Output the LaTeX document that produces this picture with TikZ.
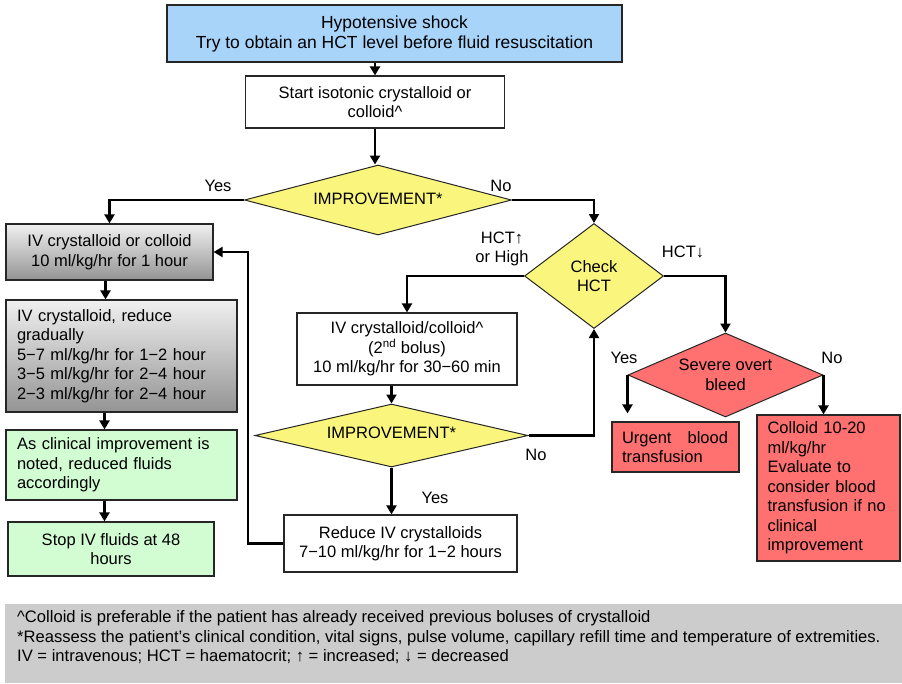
\documentclass[tikz,border=0pt]{standalone}
\usepackage{fontspec}
\setmainfont{Liberation Sans}
\usetikzlibrary{shapes.geometric,arrows.meta}
\definecolor{topblue}{RGB}{168,212,250}
\definecolor{dyellow}{RGB}{250,246,125}
\definecolor{lgreen}{RGB}{210,252,210}
\definecolor{lred}{RGB}{255,112,112}
\definecolor{notegray}{RGB}{204,204,204}
\tikzset{
  box/.style={draw=black!85, line width=1.2pt, inner sep=0pt, align=center,
    font=\fontsize{16.5}{19.5}\selectfont},
  grad/.style={box, top color=black!6, bottom color=black!42},
  dec/.style={shape=diamond, draw=black!85, line width=1pt, fill=dyellow, inner sep=0pt,
    align=center, font=\fontsize{16.5}{19.5}\selectfont},
  arr/.style={line width=2.2pt, -{Triangle[length=9pt,width=10pt]}},
  lbl/.style={align=center, inner sep=0pt, font=\fontsize{16.5}{19.5}\selectfont},
}
\begin{document}
\begin{tikzpicture}[x=1pt,y=-1pt]
\useasboundingbox (0,0) rectangle (902,683);
% notes
\node[fill=notegray, minimum width=897pt, minimum height=79pt, inner sep=0pt] (notes) at (453.5,643.5) {};
\node[anchor=west, align=left, inner sep=0pt, font=\fontsize{16.6}{19.5}\selectfont] (notetext) at (17,637.5)
 {\textasciicircum Colloid is preferable if the patient has already received previous boluses of crystalloid\\
 *Reassess the patient’s clinical condition, vital signs, pulse volume, capillary refill time and temperature of extremities.\\
 IV = intravenous; HCT = haematocrit; ↑ = increased; ↓ = decreased};
% boxes
\node[box, fill=topblue, minimum width=455pt, minimum height=57pt, font=\fontsize{17.5}{20}\selectfont] (top) at (394.5,33.5)
 {Hypotensive shock\\Try to obtain an HCT level before fluid resuscitation};
\node[box, fill=white, minimum width=259pt, minimum height=52pt] (start) at (375,102)
 {Start isotonic crystalloid or\\colloid\textasciicircum};
\node[dec, minimum width=267pt, minimum height=70pt, shape aspect=3.81] (d1) at (378,200) {\raisebox{3pt}{IMPROVEMENT*}};
\node[grad, minimum width=207pt, minimum height=56pt] (L1) at (109.5,252)
 {IV crystalloid or colloid\\10 ml/kg/hr for 1 hour};
\node[grad, minimum width=231pt, minimum height=112pt, align=left, text width=209pt] (L2) at (121.5,356)
 {IV crystalloid, reduce\\gradually\\5−7 ml/kg/hr for 1−2 hour\\3−5 ml/kg/hr for 2−4 hour\\2−3 ml/kg/hr for 2−4 hour};
\node[box, fill=lgreen, minimum width=231pt, minimum height=70pt, align=left, text width=209pt] (L3) at (121.5,465)
 {As clinical improvement is\\noted, reduced fluids\\accordingly};
\node[box, fill=lgreen, minimum width=206pt, minimum height=54pt] (L4) at (111,549)
 {Stop IV fluids at 48\\hours};
\node[dec, minimum width=139pt, minimum height=105pt, shape aspect=1.32] (check) at (594,276) {Check\\HCT};
\node[box, fill=white, minimum width=220pt, minimum height=72pt] (M1) at (407,349)
 {IV crystalloid/colloid\textasciicircum\\(2\textsuperscript{nd} bolus)\\10 ml/kg/hr for 30−60 min};
\node[dec, minimum width=273pt, minimum height=63pt, shape aspect=4.33] (d2) at (391.5,435.5) {\raisebox{5pt}{IMPROVEMENT*}};
\node[box, fill=white, minimum width=233pt, minimum height=57pt] (reduce) at (400.5,543.5)
 {Reduce IV crystalloids\\7−10 ml/kg/hr for 1−2 hours};
\node[dec, fill=lred, minimum width=195pt, minimum height=84pt, shape aspect=2.32] (severe) at (725.5,375)
 {Severe overt\\bleed};
\node[box, fill=lred, minimum width=127pt, minimum height=50pt, align=left, text width=107pt] (urgent) at (675.5,447)
 {\hbox to 106pt{Urgent\hfill blood}\\transfusion};
\node[box, fill=lred, minimum width=143pt, minimum height=146pt, align=left, text width=122pt] (colloid) at (828.5,488)
 {Colloid 10-20\\ml/kg/hr\\Evaluate to\\consider blood\\transfusion if no\\clinical\\improvement};
% labels
\node[lbl] (yes1) at (218,186) {Yes};
\node[lbl] (no1) at (501,186) {No};
\node[lbl] (hctup) at (502,249) {HCT↑\\or High};
\node[lbl] (hctdn) at (683,252) {HCT↓};
\node[lbl] (yes2) at (624,358) {Yes};
\node[lbl] (no2) at (832,358) {No};
\node[lbl] (no3) at (536,455) {No};
\node[lbl] (yes3) at (435,498) {Yes};
% connectors
\draw[arr] (start.north |- top.south) -- (start.north);
\draw[arr] (start.south) -- (start.south |- d1.north);
\draw[arr] (d1.west) -| (L1.north);
\draw[arr] (d1.east) -| (check.north);
\draw[arr] ([xshift=-4pt]L1.south) -- ([xshift=-4pt]L1.south |- L2.north);
\draw[arr] ([xshift=-17pt]L2.south) -- ([xshift=-17pt]L2.south |- L3.north);
\draw[arr] ([xshift=-17pt]L3.south) -- ([xshift=-17pt]L3.south |- L4.north);
\draw[arr] (check.west) -| (M1.north);
\draw[arr] (d2.north |- M1.south) -- (d2.north);
\draw[arr] (d2.south) -- (d2.south |- reduce.north);
\draw[arr] (d2.east) -| (check.south);
\coordinate (fb) at (248,543.5);
\draw[arr] (reduce.west) -- (fb) |- (L1.east);
\draw[arr] (check.east) -| (severe.north);
\draw[arr] (severe.west) -- ([yshift=8pt]severe.west |- urgent.north);
\draw[arr] (severe.east) -- (severe.east |- colloid.north);
\end{tikzpicture}
\end{document}
